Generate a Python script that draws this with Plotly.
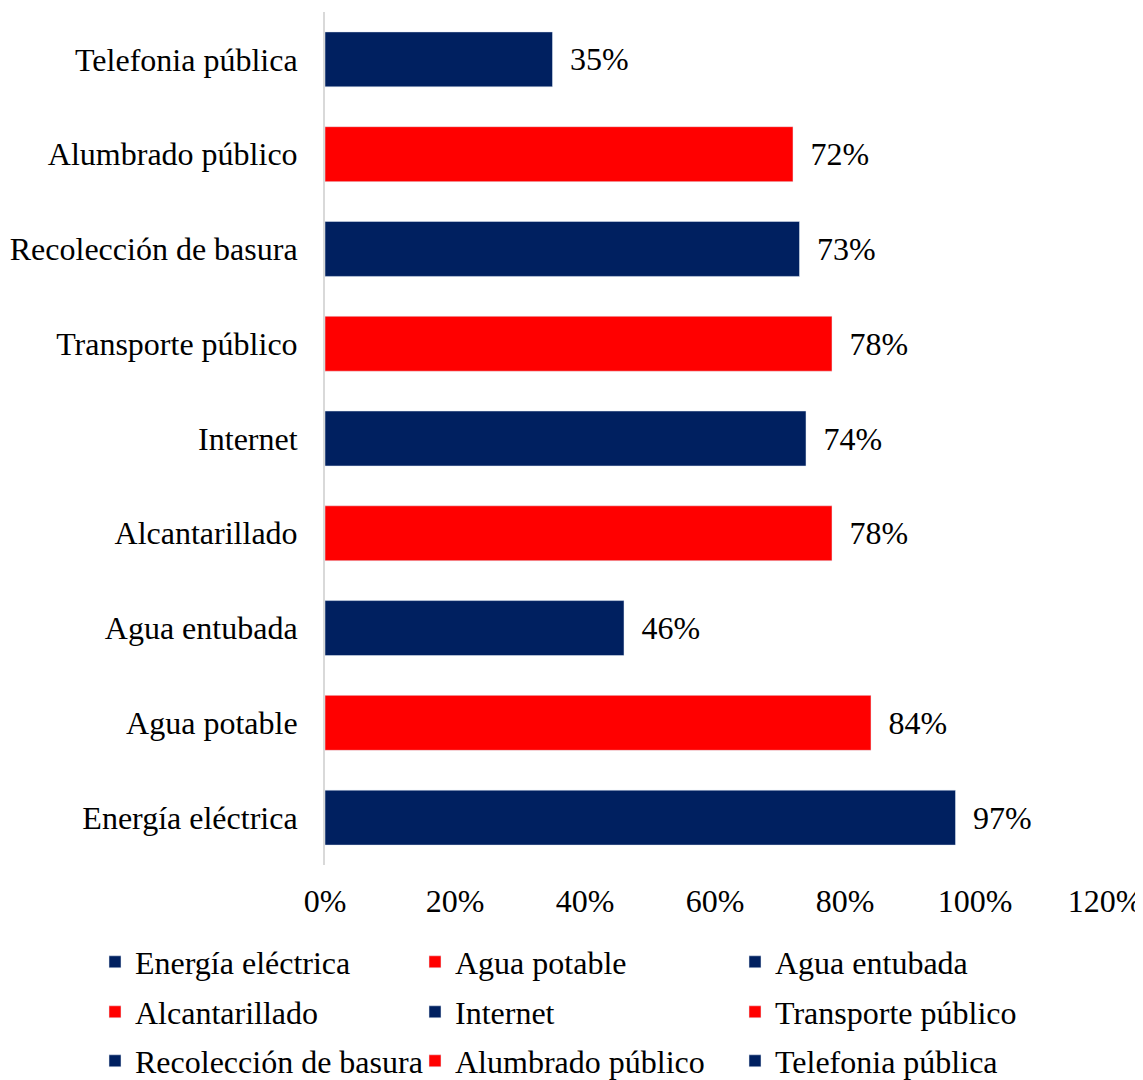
import plotly.graph_objects as go

# datos (de abajo hacia arriba)
servicios = ["Energía eléctrica", "Agua potable", "Agua entubada", "Alcantarillado",
             "Internet", "Transporte público", "Recolección de basura",
             "Alumbrado público", "Telefonia pública"]
porcentajes = [0.97, 0.84, 0.46, 0.78, 0.74, 0.78, 0.73, 0.72, 0.35]
colores = ["#002060", "#FF0000"] * 5

fuente = "Liberation Serif, Times New Roman, serif"
tam = 32

# una leyenda por fila (3 elementos cada una)
leyendas = ["legend", "legend2", "legend3"]

fig = go.Figure()
for i, (nombre, valor) in enumerate(zip(servicios, porcentajes)):
    fig.add_trace(go.Bar(
        y=[nombre], x=[valor], name=nombre, orientation="h",
        marker_color=colores[i], width=0.58,
        texttemplate=" \u2009%{x:.0%}", textposition="outside",
        textfont=dict(family=fuente, size=tam, color="black"),
        cliponaxis=False, legend=leyendas[i // 3],
    ))

# la página tiene 8 px de margen en el body
W, H = 1135, 1072
m_l, m_r, m_t, m_b = 317, 38, 4, 215
alto_plot = H - m_t - m_b
ancho_plot = W - m_l - m_r

def fila(yc):
    return dict(orientation="h", x=(87 - m_l) / ancho_plot, xanchor="left",
                y=-(yc - (H - m_b)) / alto_plot, yanchor="middle",
                entrywidth=275, entrywidthmode="pixels", traceorder="normal",
                font=dict(family=fuente, size=tam, color="black"),
                bgcolor="rgba(0,0,0,0)", itemclick=False, itemdoubleclick=False)

fig.update_layout(
    width=W, height=H,
    margin=dict(l=m_l, r=m_r, t=m_t, b=m_b, autoexpand=False),
    plot_bgcolor="white", paper_bgcolor="white",
    barmode="overlay",
    font=dict(family=fuente, size=tam, color="black"),
    showlegend=True,
    legend=fila(954), legend2=fila(1004), legend3=fila(1053),
    xaxis=dict(range=[0, 1.2], dtick=0.2, tickformat=".0%", showgrid=False,
               zeroline=False, showline=False, ticks="", ticklabelstandoff=14,
               ticklabeloverflow="allow", automargin=False, fixedrange=True),
    yaxis=dict(categoryorder="array", categoryarray=servicios, showgrid=False,
               showline=True, linecolor="#D9D9D9", linewidth=2, ticks="",
               ticklabelstandoff=19, automargin=False, fixedrange=True),
)

fig.write_html("out.html")
